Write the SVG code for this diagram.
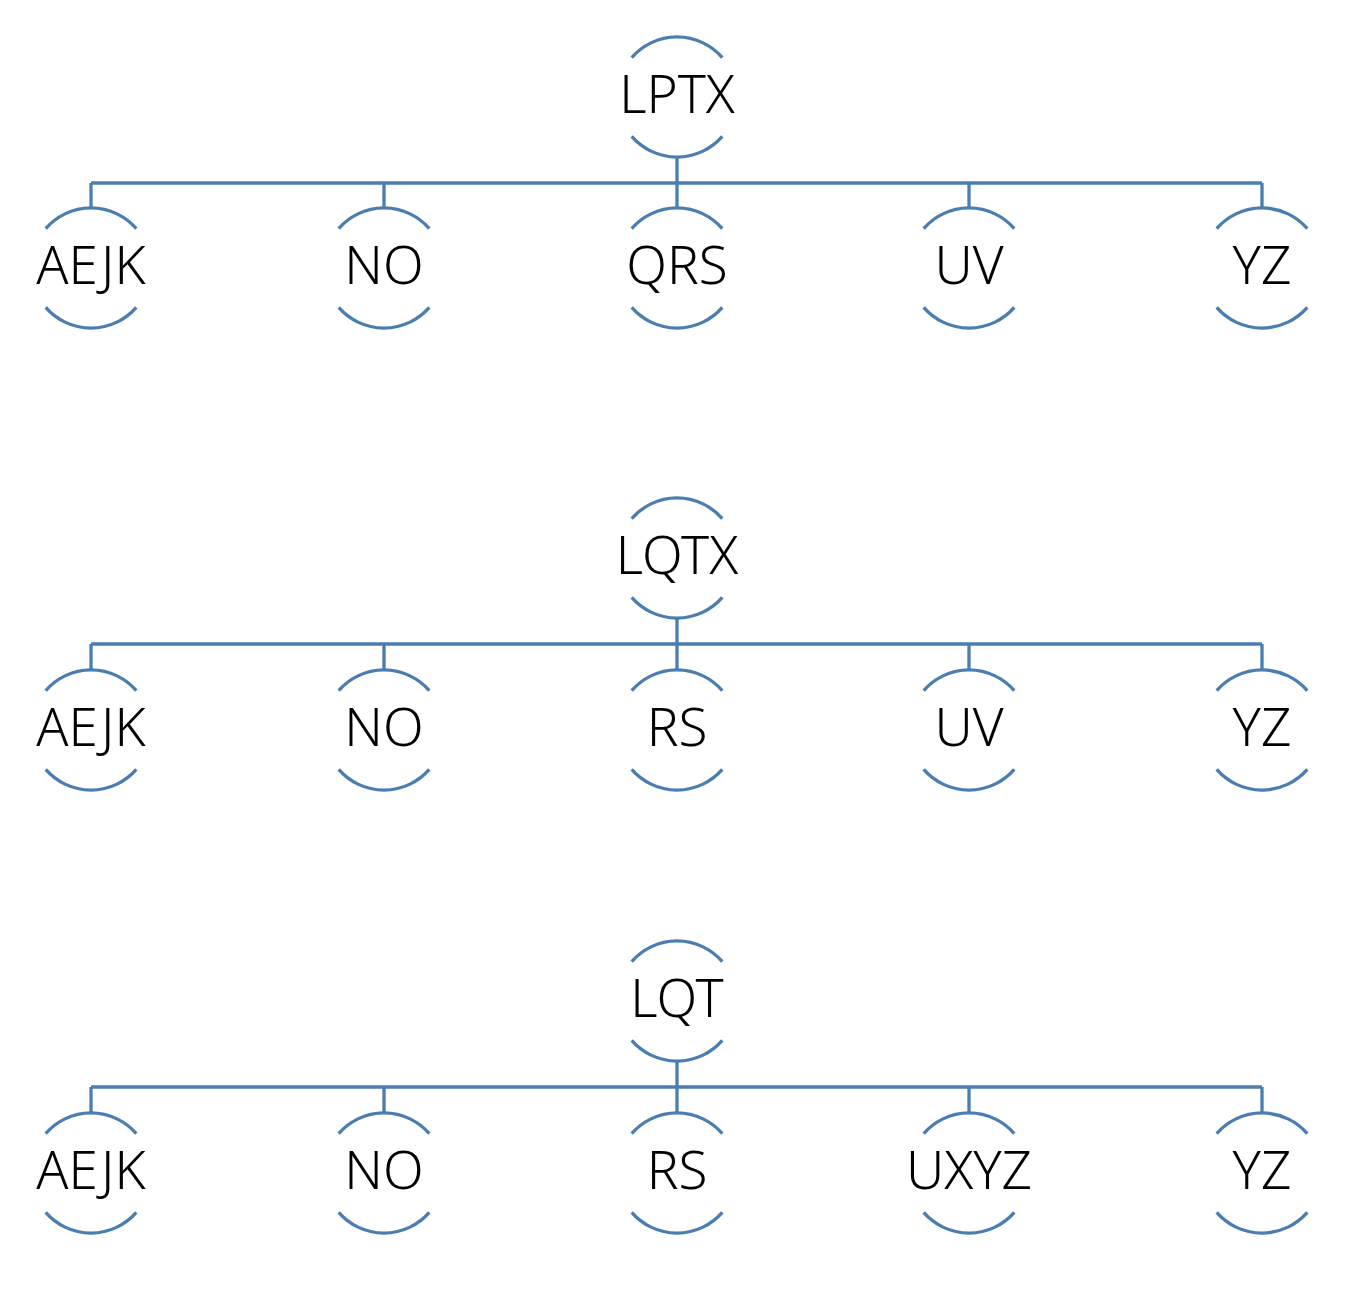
<svg xmlns="http://www.w3.org/2000/svg" xmlns:xlink="http://www.w3.org/1999/xlink" width="1352" height="1290" viewBox="0 0 1352 1290">
<style>
.arc{fill:none;stroke:#4a7db0;stroke-width:3.3}
.con{fill:none;stroke:#4a7db0;stroke-width:3.3}
.lbl{font-family:"Noto Sans","DejaVu Sans",sans-serif;font-size:53px;font-weight:300;fill:#000;text-anchor:middle}
</style>
<defs>
<path id="ring" class="arc" d="M-45.3,-39.4 A60,60 0 0 1 45.3,-39.4 M-45.3,39.4 A60,60 0 0 0 45.3,39.4"/>
</defs>
<rect width="1352" height="1290" fill="#fff"/>
<g id="connectors">
<path class="con" d="M677,157 V183 M91,183 H1262 M91,183 V208 M384,183 V208 M677,183 V208 M969,183 V208 M1262,183 V208"/>
<path class="con" d="M677,618 V644 M91,644 H1262 M91,644 V670 M384,644 V670 M677,644 V670 M969,644 V670 M1262,644 V670"/>
<path class="con" d="M677,1061 V1087 M91,1087 H1262 M91,1087 V1113 M384,1087 V1113 M677,1087 V1113 M969,1087 V1113 M1262,1087 V1113"/>
</g>
<g id="t1-root" transform="translate(677,97)"><use xlink:href="#ring"/><text class="lbl" y="16">LPTX</text></g>
<g id="t1-aejk" transform="translate(91,268)"><use xlink:href="#ring"/><text class="lbl" y="16">AEJK</text></g>
<g id="t1-no" transform="translate(384,268)"><use xlink:href="#ring"/><text class="lbl" y="16">NO</text></g>
<g id="t1-qrs" transform="translate(677,268)"><use xlink:href="#ring"/><text class="lbl" y="16">QRS</text></g>
<g id="t1-uv" transform="translate(969,268)"><use xlink:href="#ring"/><text class="lbl" y="16">UV</text></g>
<g id="t1-yz" transform="translate(1262,268)"><use xlink:href="#ring"/><text class="lbl" y="16">YZ</text></g>
<g id="t2-root" transform="translate(677,558)"><use xlink:href="#ring"/><text class="lbl" y="16">LQTX</text></g>
<g id="t2-aejk" transform="translate(91,730)"><use xlink:href="#ring"/><text class="lbl" y="16">AEJK</text></g>
<g id="t2-no" transform="translate(384,730)"><use xlink:href="#ring"/><text class="lbl" y="16">NO</text></g>
<g id="t2-rs" transform="translate(677,730)"><use xlink:href="#ring"/><text class="lbl" y="16">RS</text></g>
<g id="t2-uv" transform="translate(969,730)"><use xlink:href="#ring"/><text class="lbl" y="16">UV</text></g>
<g id="t2-yz" transform="translate(1262,730)"><use xlink:href="#ring"/><text class="lbl" y="16">YZ</text></g>
<g id="t3-root" transform="translate(677,1001)"><use xlink:href="#ring"/><text class="lbl" y="16">LQT</text></g>
<g id="t3-aejk" transform="translate(91,1173)"><use xlink:href="#ring"/><text class="lbl" y="16">AEJK</text></g>
<g id="t3-no" transform="translate(384,1173)"><use xlink:href="#ring"/><text class="lbl" y="16">NO</text></g>
<g id="t3-rs" transform="translate(677,1173)"><use xlink:href="#ring"/><text class="lbl" y="16">RS</text></g>
<g id="t3-uxyz" transform="translate(969,1173)"><use xlink:href="#ring"/><text class="lbl" y="16">UXYZ</text></g>
<g id="t3-yz" transform="translate(1262,1173)"><use xlink:href="#ring"/><text class="lbl" y="16">YZ</text></g>
</svg>
